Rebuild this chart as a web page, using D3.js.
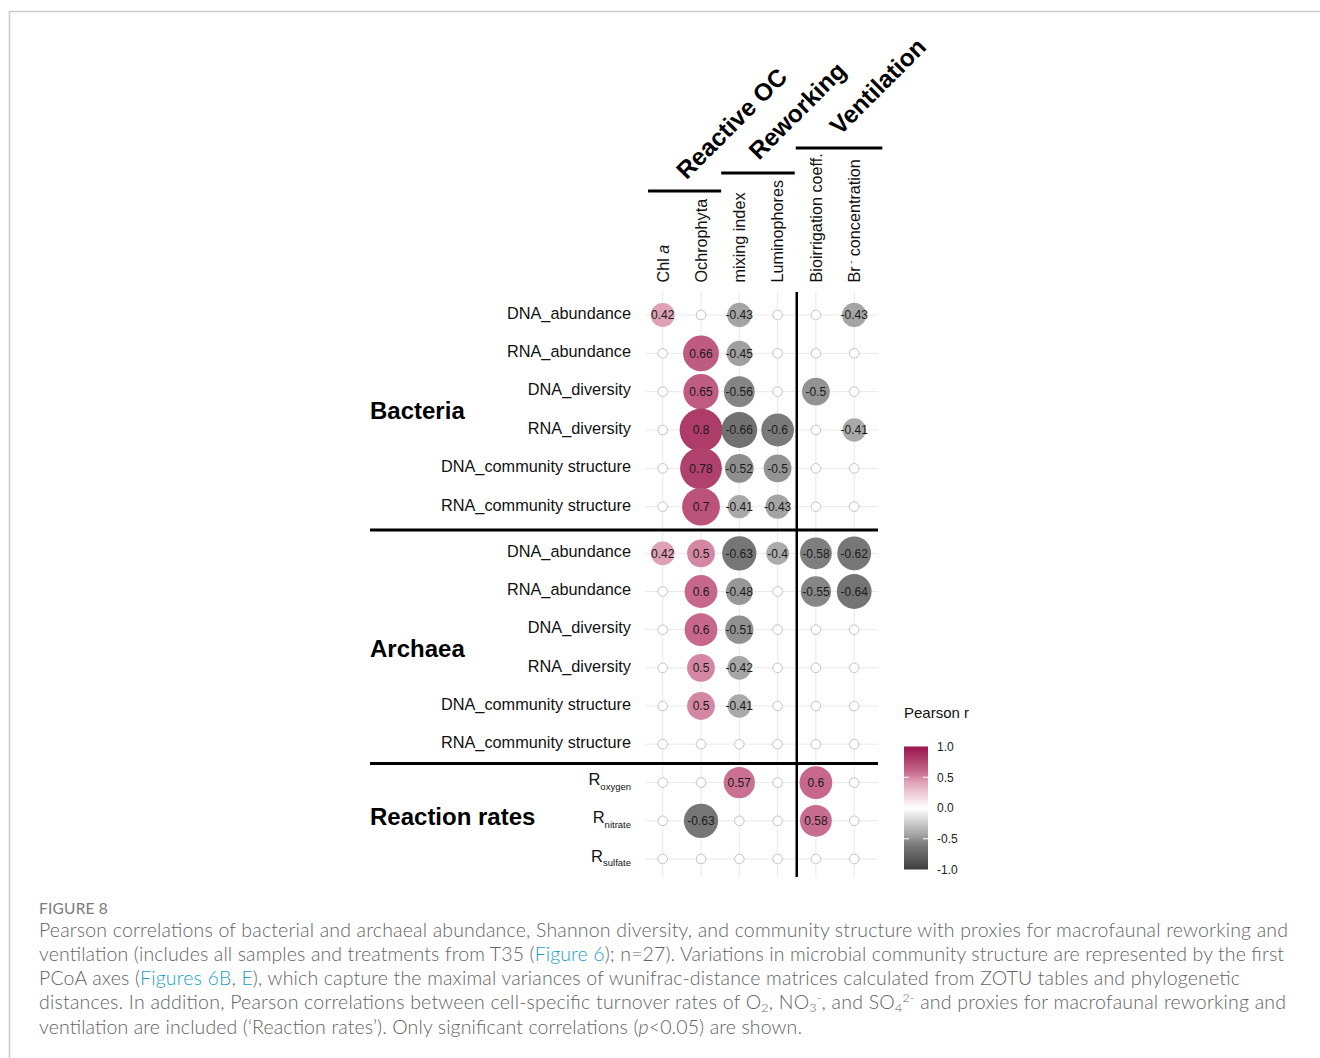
<!DOCTYPE html>
<html>
<head>
<meta charset="utf-8">
<script src="https://cdn.jsdelivr.net/npm/d3@7/dist/d3.min.js"></script>
<style>
  body { margin: 0; background: #fff; }
  svg { display: block; }
</style>
</head>
<body>
<svg id="fig" width="1320" height="1058"></svg>
<script>
// ---- data -------------------------------------------------------------
const columns = ["Chl a", "Ochrophyta", "mixing index", "Luminophores", "Bioirrigation coeff.", "Br- concentration"];
const columnGroups = ["Reactive OC", "Reworking", "Ventilation"];
const columnGroupSpans = [[0, 1], [2, 3], [4, 5]];

const bacteriaRows = ["DNA_abundance", "RNA_abundance", "DNA_diversity", "RNA_diversity", "DNA_community structure", "RNA_community structure"];
const bacteriaValues = [
  [0.42, null, -0.43, null, null, -0.43],
  [null, 0.66, -0.45, null, null, null],
  [null, 0.65, -0.56, null, -0.5, null],
  [null, 0.8, -0.66, -0.6, null, -0.41],
  [null, 0.78, -0.52, -0.5, null, null],
  [null, 0.7, -0.41, -0.43, null, null]
];

const archaeaRows = ["DNA_abundance", "RNA_abundance", "DNA_diversity", "RNA_diversity", "DNA_community structure", "RNA_community structure"];
const archaeaValues = [
  [0.42, 0.5, -0.63, -0.4, -0.58, -0.62],
  [null, 0.6, -0.48, null, -0.55, -0.64],
  [null, 0.6, -0.51, null, null, null],
  [null, 0.5, -0.42, null, null, null],
  [null, 0.5, -0.41, null, null, null],
  [null, null, null, null, null, null]
];

const reactionRows = ["oxygen", "nitrate", "sulfate"];
const reactionValues = [
  [null, null, 0.57, null, 0.6, null],
  [null, -0.63, null, null, 0.58, null],
  [null, null, null, null, null, null]
];

const legendTicks = [1.0, 0.5, 0.0, -0.5, -1.0];

// ---- layout -----------------------------------------------------------
const svg = d3.select("#fig");
const FONT = "'Liberation Sans', Arial, sans-serif";

// figure frame
svg.append("path")
  .attr("d", "M9.5,1058 V11.5 H1320")
  .attr("fill", "none").attr("stroke", "#cccccc").attr("stroke-width", 1.5);

const x = d3.scalePoint().domain(columns).range([662.7, 854.2]);
const step = x.step();

const panels = [
  { name: "Bacteria", rows: bacteriaRows, values: bacteriaValues, y0: 315, y1: 506.7, labelY: 419 },
  { name: "Archaea", rows: archaeaRows, values: archaeaValues, y0: 553.3, y1: 744.2, labelY: 657 },
  { name: "Reaction rates", rows: reactionRows, values: reactionValues, y0: 782.6, y1: 859, labelY: 824.5, rate: true }
];
panels.forEach(p => {
  p.y = d3.scalePoint().domain(p.rows.map((r, i) => i)).range([p.y0, p.y1]);
});

const color = d3.scaleLinear()
  .domain([-1, -0.6, -0.4, 0, 0.4, 0.6, 0.8, 1])
  .range(["#3f3f3f", "#7a7a7a", "#ababab", "#ffffff", "#e2a7bb", "#c6678b", "#ae3c68", "#9a1450"])
  .clamp(true);
const radius = d3.scaleLinear().domain([0.4, 0.8]).range([11.4, 21.4]);

// grid lines
const grid = svg.append("g").attr("stroke", "#e9e9e9").attr("stroke-width", 1);
columns.forEach(c => {
  grid.append("line").attr("x1", x(c)).attr("x2", x(c)).attr("y1", 292).attr("y2", 877);
});
panels.forEach(p => {
  p.rows.forEach((r, i) => {
    grid.append("line").attr("x1", 645).attr("x2", 878).attr("y1", p.y(i)).attr("y2", p.y(i));
  });
});

// cells
panels.forEach(p => {
  const g = svg.append("g");
  p.values.forEach((row, i) => {
    row.forEach((v, j) => {
      const cx = x(columns[j]), cy = p.y(i);
      if (v === null) {
        g.append("circle").attr("cx", cx).attr("cy", cy).attr("r", 4.8)
          .attr("fill", "#fff").attr("stroke", "#bdbdbd").attr("stroke-width", 0.9);
      } else {
        g.append("circle").attr("cx", cx).attr("cy", cy).attr("r", radius(Math.abs(v)))
          .attr("fill", color(v));
        g.append("text").attr("x", cx).attr("y", cy + 4.3)
          .attr("text-anchor", "middle").attr("font-family", FONT).attr("font-size", 12)
          .attr("fill", "#1a1a1a").text(String(v));
      }
    });
  });
});

// separators
svg.append("line").attr("x1", (x(columns[3]) + x(columns[4])) / 2).attr("x2", (x(columns[3]) + x(columns[4])) / 2)
  .attr("y1", 292).attr("y2", 877).attr("stroke", "#000").attr("stroke-width", 2.5);
[(panels[0].y1 + panels[1].y0) / 2, (panels[1].y1 + panels[2].y0) / 2].forEach(yy => {
  svg.append("line").attr("x1", 370).attr("x2", 878).attr("y1", yy).attr("y2", yy)
    .attr("stroke", "#000").attr("stroke-width", 3);
});

// row labels
panels.forEach(p => {
  const g = svg.append("g").attr("font-family", FONT).attr("fill", "#111");
  p.rows.forEach((r, i) => {
    const t = g.append("text").attr("x", 631).attr("text-anchor", "end");
    if (p.rate) {
      t.attr("y", p.y(i) + 2.5).attr("font-size", 16.5);
      t.append("tspan").text("R");
      t.append("tspan").attr("font-size", 9.5).attr("dy", 4.5).text(r);
    } else {
      t.attr("y", p.y(i) + 3.8).attr("font-size", 16.3).text(r);
    }
  });
  g.append("text").attr("x", 370).attr("y", p.labelY)
    .attr("font-size", 24).attr("font-weight", "bold").attr("fill", "#000").text(p.name);
});

// column labels (rotated)
columns.forEach(c => {
  const t = svg.append("text")
    .attr("transform", `translate(${x(c) + 5.8},282.5) rotate(-90)`)
    .attr("font-family", FONT).attr("font-size", 16.2).attr("fill", "#111");
  if (c === "Chl a") {
    t.append("tspan").text("Chl ");
    t.append("tspan").attr("font-style", "italic").text("a");
  } else if (c === "Br- concentration") {
    t.append("tspan").text("Br");
    t.append("tspan").attr("font-size", 9).attr("dy", -6).text(" -");
    t.append("tspan").attr("dy", 6).text(" concentration");
  } else {
    t.text(c);
  }
});

// column group headers
const headerY = [191, 173, 148];
const headerTrim = [[4.5, 1], [1, -2], [-1, 9]];
const headerShift = [[2, -10.5], [1, -12], [1, -12]];
columnGroups.forEach((name, k) => {
  const [a, b] = columnGroupSpans[k];
  const x1 = x(columns[a]) - step / 2 + headerTrim[k][0];
  const x2 = x(columns[b]) + step / 2 + headerTrim[k][1];
  svg.append("line").attr("x1", x1).attr("x2", x2).attr("y1", headerY[k]).attr("y2", headerY[k])
    .attr("stroke", "#000").attr("stroke-width", 3);
  const cx = (x1 + x2) / 2;
  svg.append("text")
    .attr("transform", `translate(${cx + headerShift[k][0]},${headerY[k] + headerShift[k][1]}) rotate(-45)`)
    .attr("font-family", FONT).attr("font-size", 24.5).attr("font-weight", "bold")
    .attr("fill", "#000").text(name);
});

// colour legend
const lg = svg.append("g").attr("font-family", FONT);
lg.append("text").attr("x", 904).attr("y", 718).attr("font-size", 15).attr("fill", "#111").text("Pearson r");
const ly = d3.scaleLinear().domain([-1, 1]).range([869.5, 746.5]);
const defs = svg.append("defs");
const grad = defs.append("linearGradient").attr("id", "pr").attr("x1", 0).attr("x2", 0).attr("y1", 1).attr("y2", 0);
d3.range(-1, 1.0001, 0.05).forEach(v => {
  grad.append("stop").attr("offset", (v + 1) / 2).attr("stop-color", color(v));
});
lg.append("rect").attr("x", 904).attr("y", ly(1)).attr("width", 24).attr("height", ly(-1) - ly(1))
  .attr("fill", "url(#pr)");
legendTicks.forEach(v => {
  if (Math.abs(v) === 0.5) {
    lg.append("line").attr("x1", 904).attr("x2", 909).attr("y1", ly(v)).attr("y2", ly(v)).attr("stroke", "#fff").attr("stroke-width", 1);
    lg.append("line").attr("x1", 923).attr("x2", 928).attr("y1", ly(v)).attr("y2", ly(v)).attr("stroke", "#fff").attr("stroke-width", 1);
  }
  lg.append("text").attr("x", 937).attr("y", ly(v) + 4.3).attr("font-size", 12).attr("fill", "#222")
    .text(v.toFixed(1));
});

// caption
const CAP_FONT = "Lato, 'Open Sans', sans-serif";
svg.append("text").attr("x", 39).attr("y", 913.5).attr("font-family", CAP_FONT)
  .attr("font-size", 15.5).attr("font-weight", 400).attr("fill", "#7a7a7a").attr("letter-spacing", 0.2).text("FIGURE 8");

const LINK = "#1aa0c4";
const captionLines = [
  { w: 1249, segs: [["Pearson correlations of bacterial and archaeal abundance, Shannon diversity, and community structure with proxies for macrofaunal reworking and"]] },
  { w: 1245, segs: [["ventilation (includes all samples and treatments from T35 ("], ["Figure 6", "link"], ["); n=27). Variations in microbial community structure are represented by the first"]] },
  { w: 1201, segs: [["PCoA axes ("], ["Figures 6B", "link"], [", "], ["E", "link"], ["), which capture the maximal variances of wunifrac-distance matrices calculated from ZOTU tables and phylogenetic"]] },
  { w: 1247, segs: [["distances. In addition, Pearson correlations between cell-specific turnover rates of O"], ["2", "sub"], [", NO"], ["3", "sub"], ["-", "sup"], [", and SO"], ["4", "sub"], ["2-", "sup"], [" and proxies for macrofaunal reworking and"]] },
  { w: 763, segs: [["ventilation are included (\u2018Reaction rates\u2019). Only significant correlations ("], ["p", "it"], ["<0.05) are shown."]] }
];
captionLines.forEach((ln, i) => {
  const t = svg.append("text").attr("x", 39).attr("y", 936.5 + i * 24.3)
    .attr("font-family", CAP_FONT).attr("font-size", 19.5).attr("font-weight", 300).attr("fill", "#636363")
    .attr("textLength", ln.w).attr("lengthAdjust", "spacing");
  let shift = 0;
  ln.segs.forEach(([s, kind]) => {
    const sp = t.append("tspan").text(s);
    let target = 0;
    if (kind === "sub") { target = 3; sp.attr("font-size", 12.5); }
    if (kind === "sup") { target = -7; sp.attr("font-size", 12.5); }
    if (target !== shift) { sp.attr("dy", target - shift); shift = target; }
    if (kind === "link") sp.attr("fill", LINK);
    if (kind === "it") sp.attr("font-style", "italic");
  });
});
</script>
</body>
</html>
